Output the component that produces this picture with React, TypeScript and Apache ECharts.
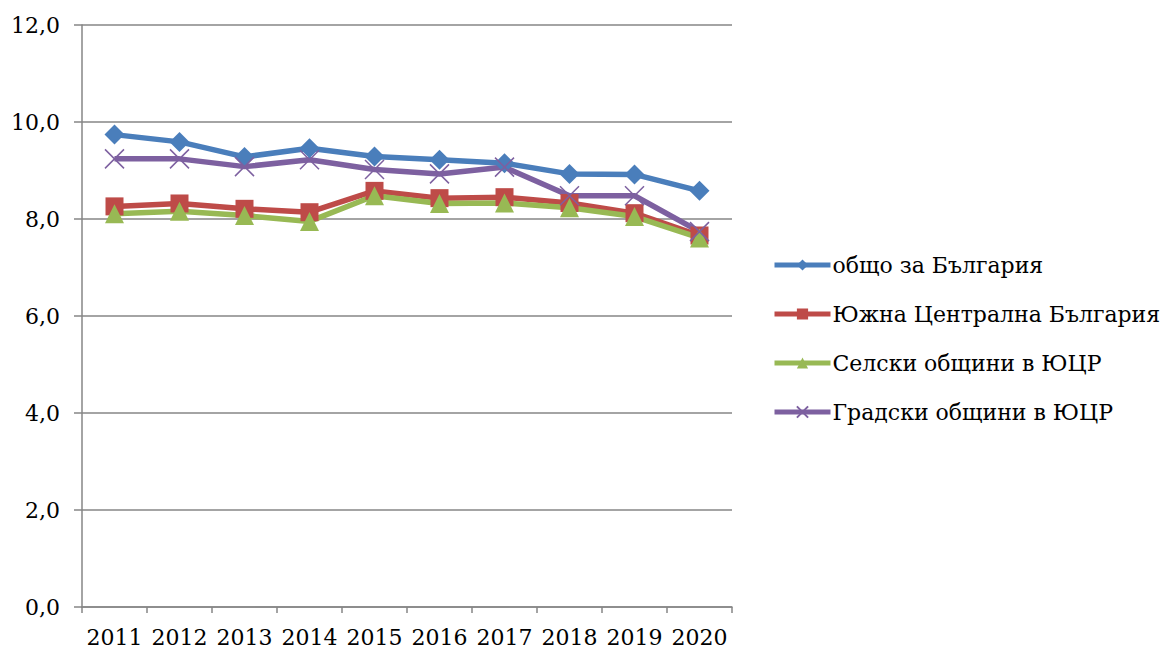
import React, { useEffect, useRef } from "react";
import * as echarts from "echarts";

const categories = ["2011", "2012", "2013", "2014", "2015", "2016", "2017", "2018", "2019", "2020"];
const seriesNames = ["общо за България", "Южна Централна България", "Селски общини в ЮЦР", "Градски общини в ЮЦР"];
const bulgaria = [9.74, 9.59, 9.28, 9.46, 9.29, 9.22, 9.15, 8.93, 8.92, 8.58];
const southCentral = [8.26, 8.32, 8.21, 8.14, 8.58, 8.43, 8.45, 8.33, 8.12, 7.66];
const rural = [8.11, 8.16, 8.07, 7.95, 8.48, 8.32, 8.33, 8.23, 8.05, 7.61];
const urban = [9.24, 9.24, 9.08, 9.22, 9.02, 8.93, 9.07, 8.48, 8.48, 7.74];
const yTicks = { min: 0, max: 12, interval: 2 };

const FONT = "DejaVu Serif";

export default function App() {
  const ref = useRef<HTMLDivElement>(null);
  useEffect(() => {
    document.body.style.margin = "0";
    const chart = echarts.init(ref.current!, null, { renderer: "svg" });
    const mk = (name: string, data: number[], color: string, symbol: string, size: number) => ({
      name,
      type: "line",
      data,
      symbol,
      symbolSize: size,
      lineStyle: { color, width: 5.5 },
      itemStyle: { color },
      emphasis: { disabled: true },
    });
    chart.setOption({
      animation: false,
      textStyle: { fontFamily: FONT },
      grid: { left: 82, right: 429, top: 25, bottom: 44 },
      legend: {
        orient: "vertical",
        left: 772,
        top: 254,
        padding: 0,
        itemWidth: 56,
        itemHeight: 14,
        itemGap: 27,
        lineStyle: { width: 5 },
        textStyle: { fontFamily: FONT, fontSize: 22, color: "#000", padding: [0, 0, 0, -3] },
        data: seriesNames,
      },
      xAxis: {
        type: "category",
        data: categories,
        boundaryGap: true,
        axisLine: { lineStyle: { color: "#868686", width: 1.5 } },
        axisTick: { show: true, length: 6, interval: 0, lineStyle: { color: "#868686", width: 1.5 } },
        axisLabel: { color: "#000", fontFamily: FONT, fontSize: 22, margin: 19, interval: 0 },
      },
      yAxis: {
        type: "value",
        min: yTicks.min,
        max: yTicks.max,
        interval: yTicks.interval,
        axisLine: { show: true, lineStyle: { color: "#868686", width: 1.5 } },
        axisTick: { show: true, length: 8, lineStyle: { color: "#868686", width: 1.5 } },
        splitLine: { show: true, lineStyle: { color: "#868686", width: 1.5 } },
        axisLabel: {
          color: "#000",
          fontFamily: FONT,
          fontSize: 22,
          margin: 22,
          formatter: (v: number) => v.toFixed(1).replace(".", ","),
        },
      },
      series: [
        mk(seriesNames[0], bulgaria, "#4A7EBB", "diamond", 20),
        mk(seriesNames[1], southCentral, "#BE4B48", "rect", 18),
        mk(seriesNames[2], rural, "#98B954", "triangle", 19),
        {
          ...mk(seriesNames[3], urban, "#7D60A0", "path://M0,0L10,10M10,0L0,10", 19),
          itemStyle: { color: "transparent", borderColor: "#7D60A0", borderWidth: 1.5 },
        },
      ],
    });
    return () => chart.dispose();
  }, []);
  return <div ref={ref} style={{ width: 1161, height: 651 }} />;
}
